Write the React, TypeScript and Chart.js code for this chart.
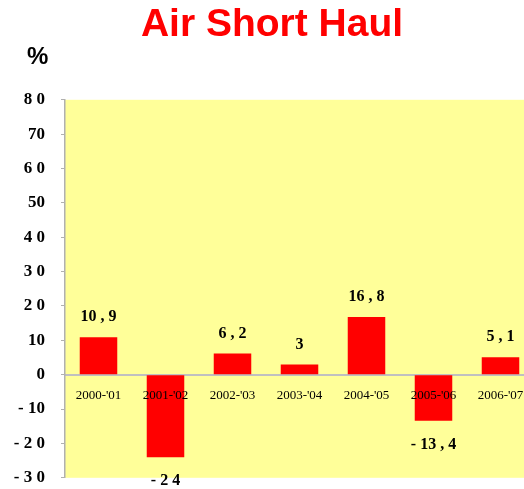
import React, { useEffect, useRef } from "react";
import { Chart, registerables } from "chart.js";

Chart.register(...registerables);

const categories = ["2000-'01", "2001-'02", "2002-'03", "2003-'04", "2004-'05", "2005-'06", "2006-'07"];
const values = [10.9, -24, 6.2, 3, 16.8, -13.4, 5.1];
const valueLabels = ["10 , 9", "- 2 4", "6 , 2", "3", "16 , 8", "- 13 , 4", "5 , 1"];
const yTickValues = [-30, -20, -10, 0, 10, 20, 30, 40, 50, 60, 70, 80];
const yTickLabels = ["- 3 0", "- 2 0", "- 10", "0", "10", "2 0", "3 0", "4 0", "50", "6 0", "70", "8 0"];
const titleText = "Air Short Haul";
const unitText = "%";

const serif = "'Liberation Serif', 'Times New Roman', serif";
const sans = "'Liberation Sans', Arial, sans-serif";

const plotBg = {
  id: "plotBg",
  beforeDraw(chart: any) {
    const { ctx, chartArea } = chart;
    ctx.save();
    ctx.fillStyle = "#FFFF99";
    ctx.fillRect(chartArea.left, chartArea.top, chartArea.right - chartArea.left, chartArea.bottom - chartArea.top);
    ctx.restore();
  },
};

const unitLabel = {
  id: "unitLabel",
  afterDraw(chart: any) {
    const { ctx } = chart;
    ctx.save();
    ctx.font = `bold 24px ${sans}`;
    ctx.fillStyle = "#000";
    ctx.textAlign = "left";
    ctx.textBaseline = "alphabetic";
    ctx.fillText(unitText, 27, 64);
    ctx.restore();
  },
};

const valueLabelPlugin = {
  id: "valueLabelPlugin",
  afterDatasetsDraw(chart: any) {
    const { ctx } = chart;
    const meta = chart.getDatasetMeta(0);
    ctx.save();
    ctx.font = `bold 16px ${serif}`;
    ctx.fillStyle = "#000";
    ctx.textAlign = "center";
    ctx.textBaseline = "middle";
    meta.data.forEach((bar: any, i: number) => {
      const v = values[i];
      const y = v >= 0 ? bar.y - 20 : bar.y + 24;
      ctx.fillText(valueLabels[i], bar.x, y);
    });
    ctx.restore();
  },
};

export default function App() {
  const ref = useRef<HTMLCanvasElement>(null);
  useEffect(() => {
    if (!ref.current) return;
    const chart = new Chart(ref.current, {
      type: "bar",
      data: {
        labels: categories,
        datasets: [
          {
            data: values,
            backgroundColor: "#FF0000",
            borderWidth: 0,
            categoryPercentage: 1,
            barPercentage: 0.56,
          },
        ],
      },
      options: {
        responsive: true,
        maintainAspectRatio: false,
        animation: false,
        layout: { padding: { left: 10, right: 6, top: 0, bottom: 0 } },
        plugins: {
          legend: { display: false },
          tooltip: { enabled: false },
          title: {
            display: true,
            text: titleText,
            color: "#FF0000",
            font: { family: sans, size: 39, weight: "bold" },
            padding: { top: 2, bottom: 51 },
          },
        },
        scales: {
          x: {
            position: { y: 0 } as any,
            grid: { display: true, drawOnChartArea: false, drawTicks: false },
            border: { display: true, color: "#C0C0C0", width: 2 },
            ticks: {
              z: 1,
              color: "#000",
              font: { family: serif, size: 13 },
              padding: 13,
              maxRotation: 0,
              autoSkip: false,
            },
          },
          y: {
            min: -30,
            max: 80,
            afterFit(scale: any) {
              scale.width = 55;
            },
            afterBuildTicks(scale: any) {
              scale.ticks = yTickValues.map((v) => ({ value: v }));
            },
            grid: { drawOnChartArea: false, drawTicks: true, tickLength: 4, color: "#B0B0B0" },
            border: { display: true, color: "#B0B0B0", width: 1.5 },
            ticks: {
              color: "#000",
              font: { family: serif, size: 17, weight: "bold" },
              padding: 16,
              callback: (value: any) => {
                const idx = yTickValues.indexOf(Number(value));
                return idx >= 0 ? yTickLabels[idx] : "";
              },
            },
          },
        },
      },
      plugins: [plotBg, valueLabelPlugin, unitLabel],
    });
    return () => chart.destroy();
  }, []);

  return (
    <div style={{ position: "fixed", left: 0, top: 0, width: 524, height: 489, overflow: "hidden", background: "#fff" }}>
      <div style={{ position: "relative", width: 540, height: 504 }}>
        <canvas ref={ref} />
      </div>
    </div>
  );
}
